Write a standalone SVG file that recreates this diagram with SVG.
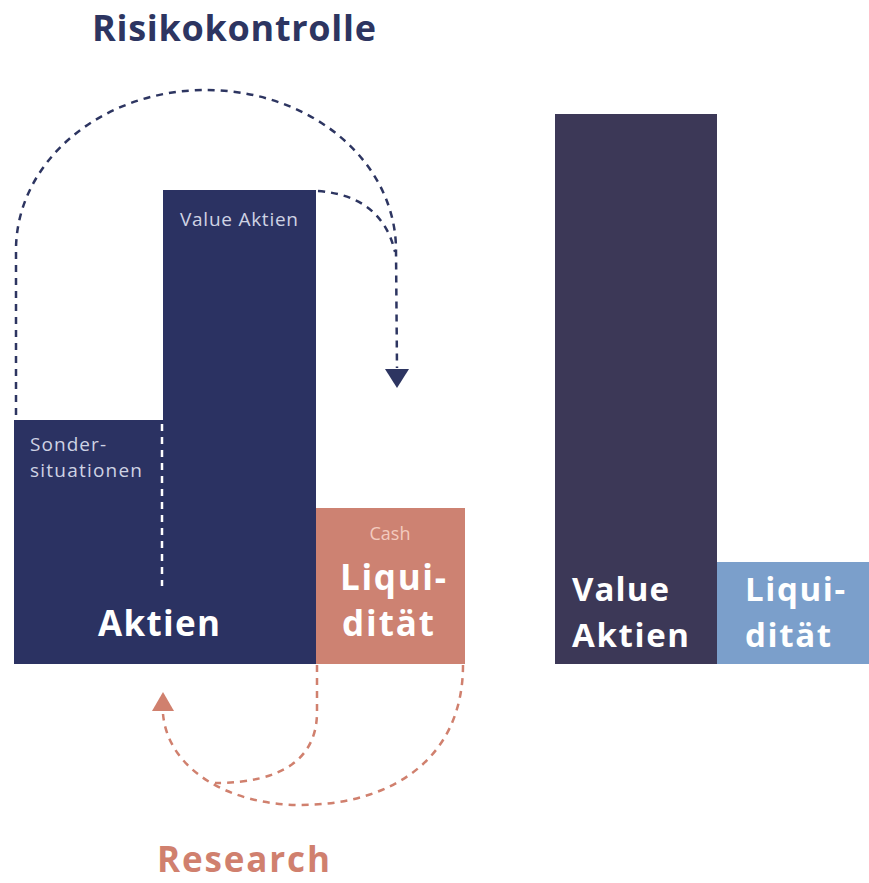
<svg xmlns="http://www.w3.org/2000/svg" width="869" height="883" viewBox="0 0 869 883">
<style>
.bold{font-family:"Open Sans","Liberation Sans",sans-serif;font-weight:700;fill:#fff}
.small{font-family:"Open Sans","Liberation Sans",sans-serif;font-weight:400}
.dashN{fill:none;stroke:#2d3561;stroke-width:2.5;stroke-dasharray:7 6}
.dashR{fill:none;stroke:#d0806e;stroke-width:2.5;stroke-dasharray:7 6}
</style>
<rect width="869" height="883" fill="#fff"/>
<g id="title-risiko"><text x="92" y="41" class="bold" style="fill:#2d3561" font-size="36" textLength="284">Risikokontrolle</text></g>
<g id="title-research"><text x="157" y="872" class="bold" style="fill:#d0806e" font-size="35" textLength="173">Research</text></g>
<g id="aktien">
<rect x="14" y="420" width="150" height="244" fill="#2b3262"/>
<rect x="163" y="190" width="153" height="474" fill="#2b3262"/>
<line x1="162" y1="424" x2="162" y2="586" stroke="#fff" stroke-width="2.5" stroke-dasharray="7 6"/>
<text x="180" y="226" class="small" font-size="19" fill="#cfd3e4" textLength="118">Value Aktien</text>
<text x="30" y="451" class="small" font-size="19" fill="#cfd3e4" textLength="76">Sonder-</text>
<text x="30" y="477" class="small" font-size="19" fill="#cfd3e4" textLength="112">situationen</text>
<text x="98" y="636" class="bold" font-size="35" textLength="122">Aktien</text>
</g>
<g id="liquiditaet">
<rect x="316" y="508" width="149" height="156" fill="#cd8272"/>
<text x="390" y="540" class="small" font-size="18" fill="#f3cbbf" text-anchor="middle">Cash</text>
<text x="340" y="590" class="bold" font-size="35" textLength="106">Liqui-</text>
<text x="342" y="636" class="bold" font-size="35" textLength="92">dität</text>
</g>
<g id="value-aktien-right">
<rect x="555" y="114" width="162" height="550" fill="#3c3857"/>
<text x="572" y="601" class="bold" font-size="33" textLength="97">Value</text>
<text x="572" y="647" class="bold" font-size="33" textLength="117">Aktien</text>
</g>
<g id="liquiditaet-right">
<rect x="717" y="562" width="152" height="102" fill="#7b9fcb"/>
<text x="745" y="601" class="bold" font-size="33" textLength="100">Liqui-</text>
<text x="745" y="647" class="bold" font-size="33" textLength="86">dität</text>
</g>
<g id="connectors">
<path class="dashN" d="M16,415 L16,250 A190,160 0 0 1 396,250 L397,368"/>
<path class="dashN" d="M318,191 Q382,196 395,252"/>
<polygon points="385,369 409,369 397,388" fill="#2d3561"/>
<path class="dashR" d="M463,665 C463,760 390,805 300,805 C230,805 168,770 163,714"/>
<path class="dashR" d="M317,665 L317,712 C317,760 280,783 215,783"/>
<polygon points="152,711 174,711 163,692" fill="#d0806e"/>
</g>
</svg>
